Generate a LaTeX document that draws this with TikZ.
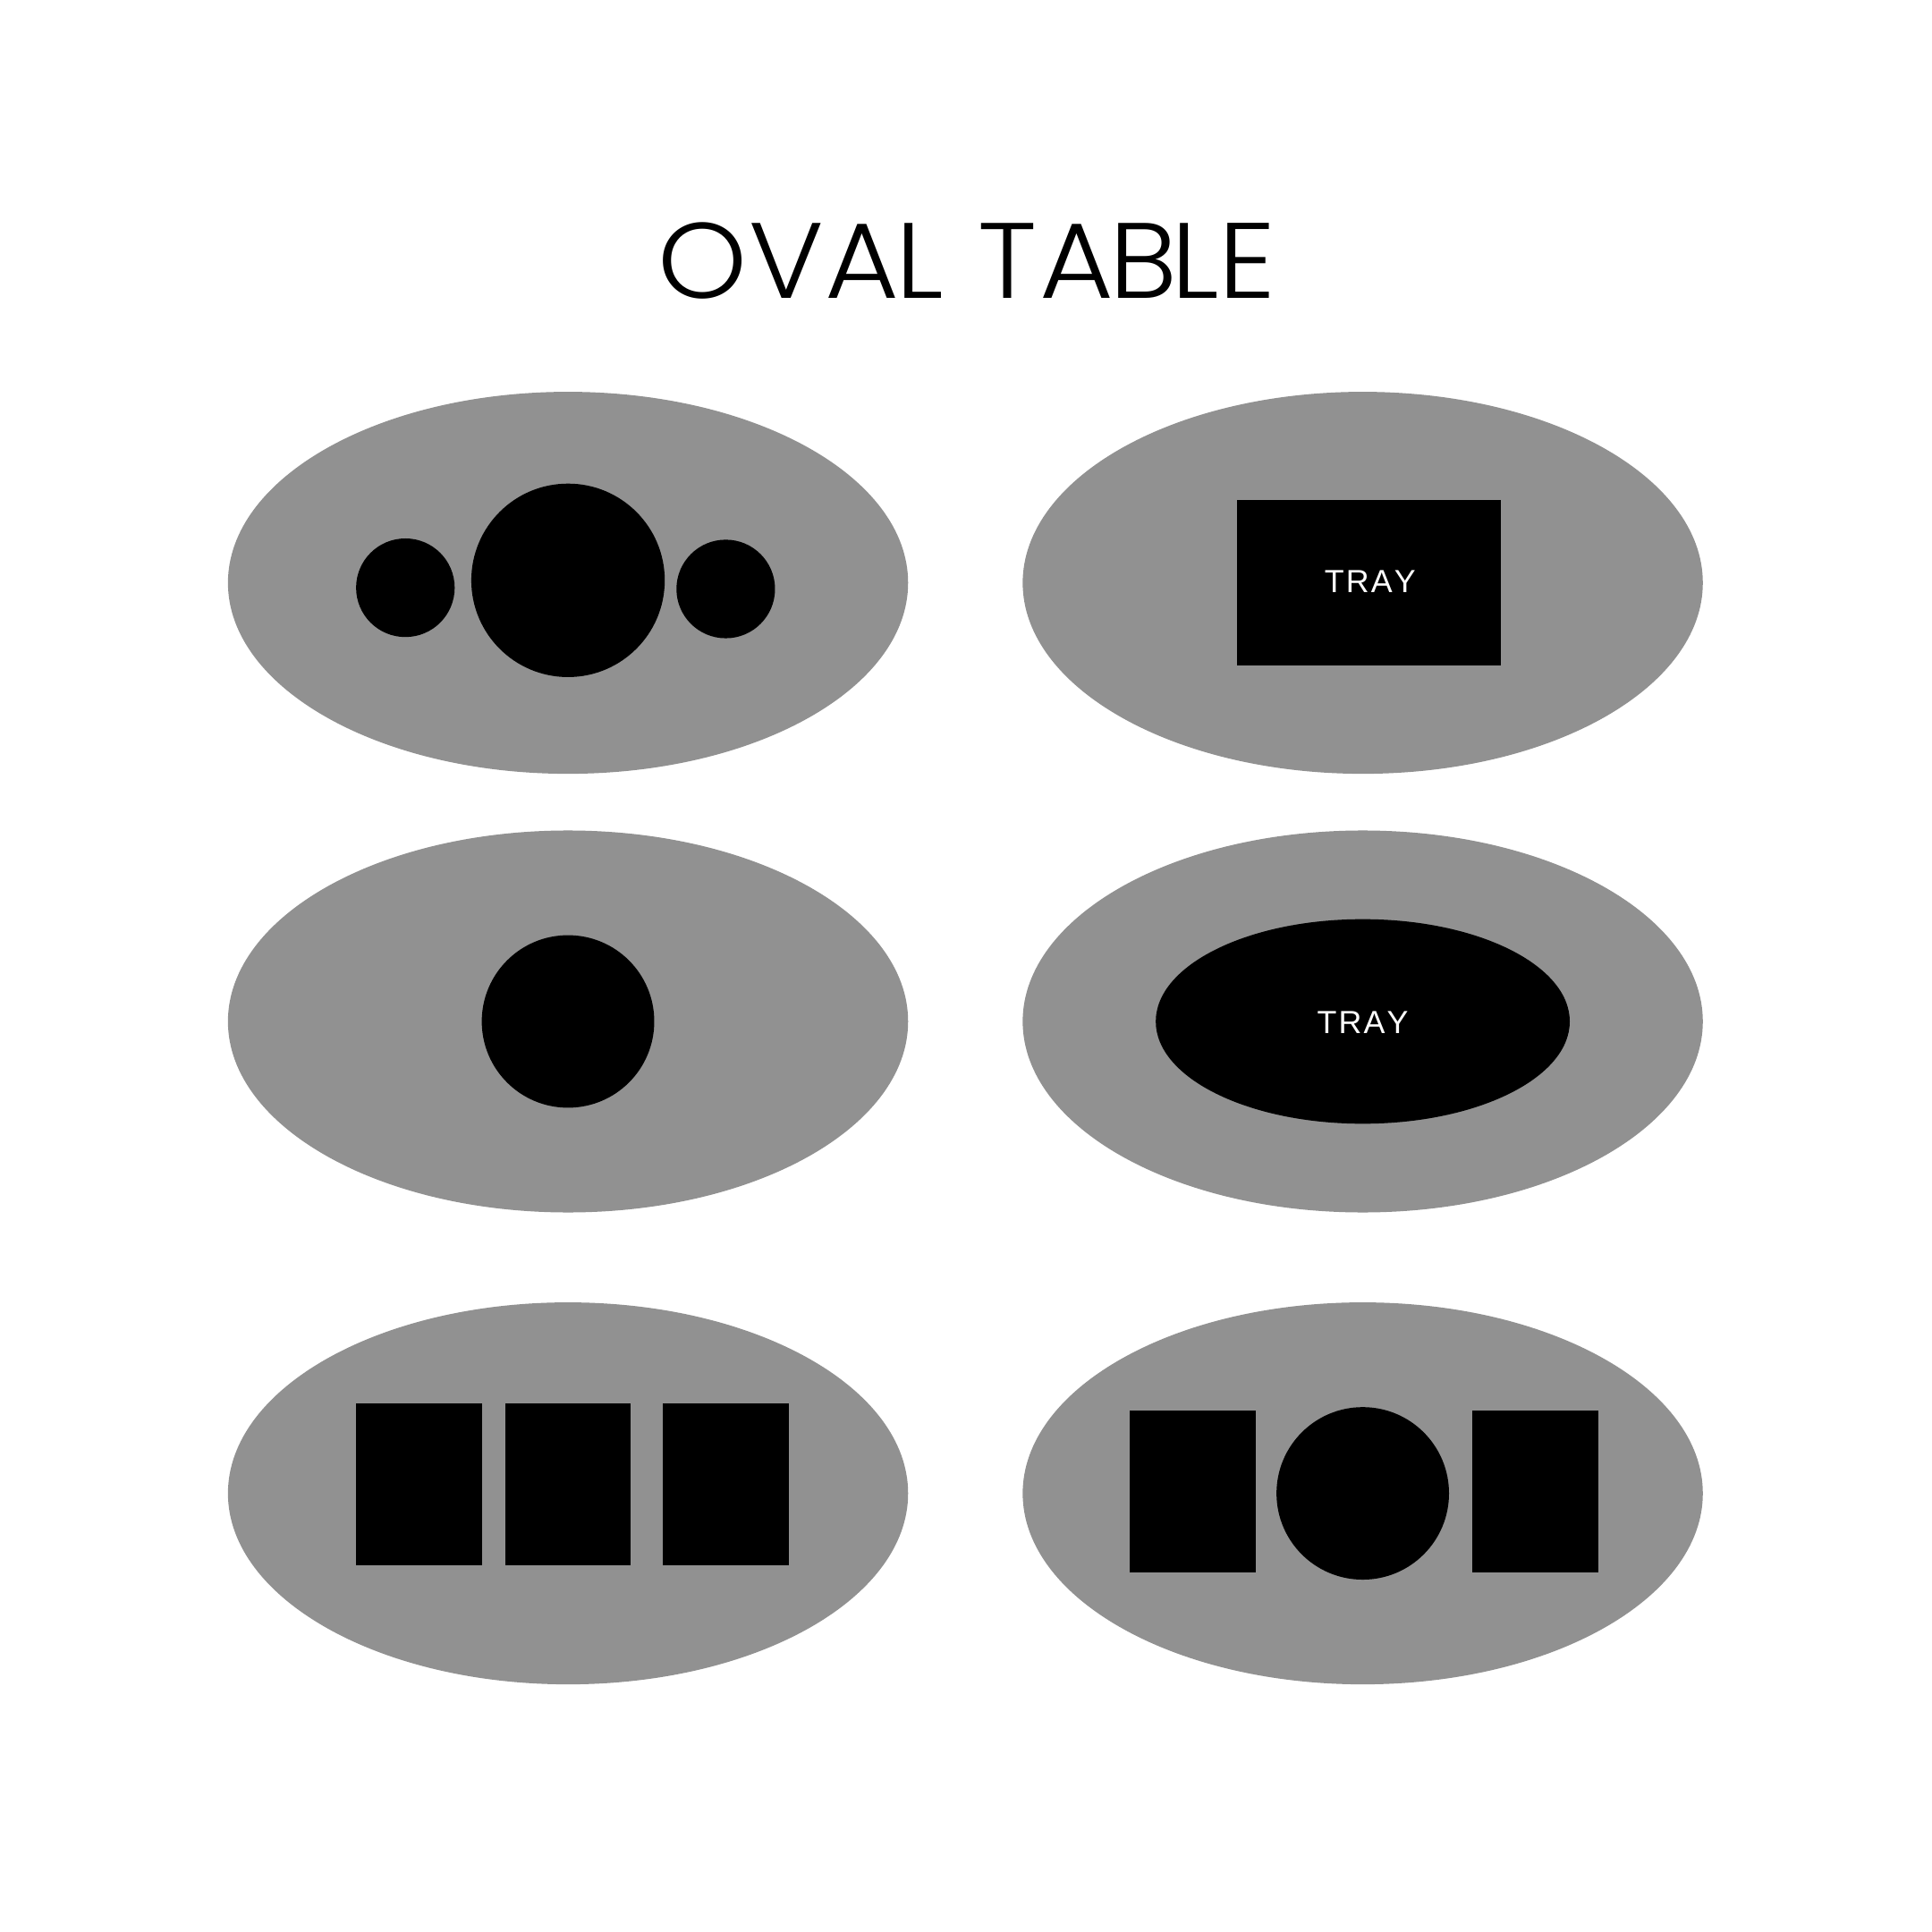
\documentclass[tikz,border=0pt]{standalone}
\usepackage{fontspec}
\newfontfamily\traysans{Liberation Sans}
\newfontfamily\titlefont{Poppins Light}
\usetikzlibrary{shapes.geometric}
\definecolor{tablegray}{HTML}{919191}
\tikzset{
  table/.style={ellipse, fill=tablegray, draw=none, inner sep=0pt, minimum width=552pt, minimum height=310pt},
  plate/.style={circle, fill=black, draw=none, inner sep=0pt},
  box/.style={rectangle, fill=black, draw=none, inner sep=0pt, minimum width=102pt, minimum height=131pt},
  traylabel/.style={text=white, font=\traysans\fontsize{26}{26}\selectfont, inner sep=0pt}
}
\begin{document}
\begin{tikzpicture}[x=1pt, y=-1pt]
\useasboundingbox (0,0) rectangle (1568,1568);
\fill[white] (0,0) rectangle (1568,1568);
% title
\node[inner sep=0pt, anchor=base west, xscale=1.06] (title) at (534,242) {\titlefont\fontsize{87}{87}\selectfont O\kern1pt V\kern1pt A\kern-3pt L\kern27pt T\kern2pt A\kern-4pt B\kern-4pt L\kern-1pt E};
% row 1
\node[table] (t1) at (461,473) {};
\node[plate, minimum size=80pt] (p1a) at (329,477) {};
\node[plate, minimum size=157pt] (p1b) at (461,471) {};
\node[plate, minimum size=80pt] (p1c) at (589,478) {};
\node[table] (t2) at (1106,473) {};
\node[rectangle, fill=black, inner sep=0pt, minimum width=214pt, minimum height=134pt] (tray1) at (1111,473) {};
\node[traylabel] (tray1l) at (1112,472) {T\kern1.5pt R\kern1.5pt A\kern1.5pt Y};
% row 2
\node[table] (t3) at (461,829) {};
\node[plate, minimum size=140pt] (p3) at (461,829) {};
\node[table] (t4) at (1106,829) {};
\node[ellipse, fill=black, inner sep=0pt, minimum width=336pt, minimum height=166pt] (tray2) at (1106,829) {};
\node[traylabel] (tray2l) at (1106,830) {T\kern1.5pt R\kern1.5pt A\kern1.5pt Y};
% row 3
\node[table] (t5) at (461,1212) {};
\node[box] (b5a) at (340,1204.5) {};
\node[box] (b5b) at (461,1204.5) {};
\node[box] (b5c) at (589,1204.5) {};
\node[table] (t6) at (1106,1212) {};
\node[box] (b6a) at (968,1210.5) {};
\node[plate, minimum size=140pt] (p6) at (1106,1212) {};
\node[box] (b6c) at (1246,1210.5) {};
\end{tikzpicture}
\end{document}
